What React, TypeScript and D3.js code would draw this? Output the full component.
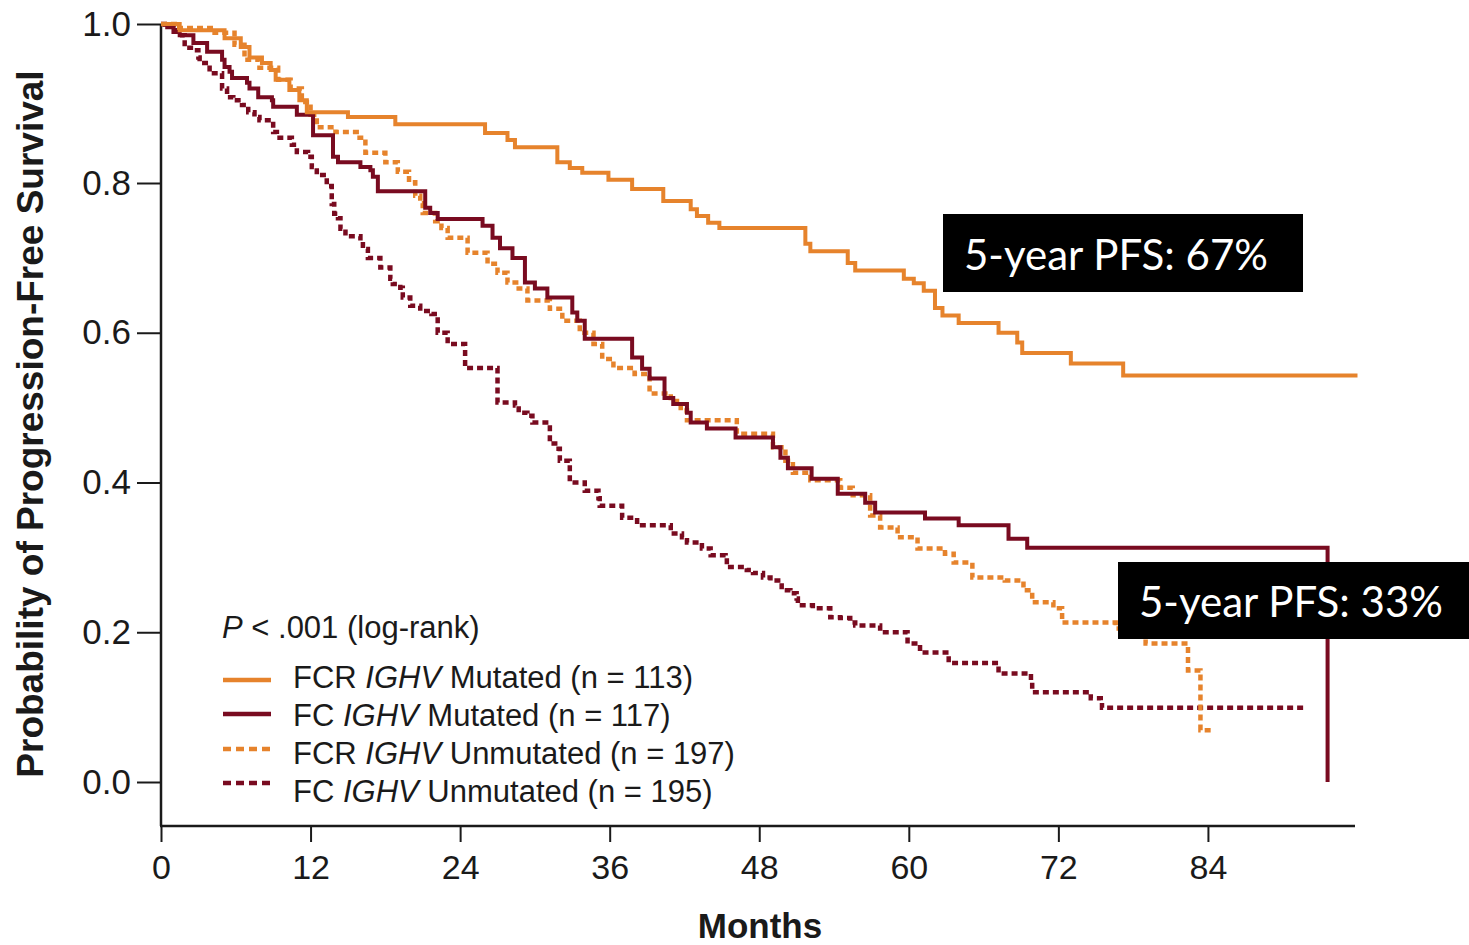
import React, { useEffect, useRef } from "react";
import * as d3 from "d3";

// axis ticks
const monthTicks = [0, 12, 24, 36, 48, 60, 72, 84];
const probTicks = [0, 0.2, 0.4, 0.6, 0.8, 1.0];

// Kaplan-Meier steps: [month, probability after the step]
const fcrMutated: [number, number][] = [
  [0, 1.0], [1.5, 0.992], [5.1, 0.982], [6.4, 0.971], [7.1, 0.958], [8.1, 0.951],
  [8.8, 0.942], [9.2, 0.93], [10.3, 0.917], [11.1, 0.904], [11.7, 0.889], [15.0, 0.883],
  [18.8, 0.874], [26.0, 0.863], [27.8, 0.854], [28.4, 0.845], [31.8, 0.826], [32.8, 0.819],
  [33.8, 0.813], [35.9, 0.804], [37.8, 0.792], [40.3, 0.776], [42.5, 0.765], [43.0, 0.756],
  [43.9, 0.747], [44.8, 0.74], [51.7, 0.719], [52.1, 0.709], [55.1, 0.693], [55.7, 0.683],
  [59.6, 0.672], [60.4, 0.666], [61.2, 0.656], [62.1, 0.633], [62.7, 0.623], [64.0, 0.613],
  [67.2, 0.6], [68.7, 0.587], [69.1, 0.573], [73.0, 0.559], [77.2, 0.543], [96.0, 0.543],
];

const fcMutated: [number, number][] = [
  [0, 1.0], [0.5, 0.996], [1.0, 0.99], [1.5, 0.986], [2.6, 0.976], [3.7, 0.965],
  [4.9, 0.955], [5.1, 0.946], [5.5, 0.94], [5.7, 0.932], [6.9, 0.926], [7.1, 0.919],
  [7.8, 0.908], [8.9, 0.904], [9.0, 0.896], [10.9, 0.886], [12.2, 0.86], [13.8, 0.833],
  [14.2, 0.826], [16.0, 0.82], [16.8, 0.816], [17.0, 0.808], [17.4, 0.789], [21.2, 0.767],
  [21.6, 0.76], [22.2, 0.752], [25.8, 0.743], [26.6, 0.727], [27.2, 0.713], [28.2, 0.7],
  [29.2, 0.667], [30.0, 0.659], [31.0, 0.647], [33.0, 0.627], [33.4, 0.616], [34.0, 0.592],
  [37.8, 0.567], [38.6, 0.552], [39.2, 0.539], [40.4, 0.513], [41.1, 0.505], [42.2, 0.493],
  [42.5, 0.48], [43.8, 0.472], [46.1, 0.46], [49.1, 0.447], [49.7, 0.433], [50.3, 0.419],
  [52.2, 0.405], [54.3, 0.385], [56.5, 0.373], [57.3, 0.36], [61.3, 0.352], [64.0, 0.343],
  [68.0, 0.325], [69.5, 0.313], [93.6, 0.0],
];

const fcrUnmutated: [number, number][] = [
  [0, 1.0], [1.1, 0.995], [4.3, 0.989], [5.9, 0.974], [6.7, 0.955], [7.9, 0.945],
  [9.4, 0.93], [10.4, 0.919], [11.3, 0.902], [12.0, 0.886], [12.5, 0.87], [14.0, 0.864],
  [15.7, 0.857], [16.4, 0.838], [18.0, 0.826], [19.0, 0.814], [19.9, 0.801], [20.4, 0.783],
  [20.8, 0.773], [21.0, 0.76], [22.0, 0.749], [22.5, 0.74], [23.0, 0.727], [24.6, 0.707],
  [26.2, 0.692], [27.0, 0.68], [27.8, 0.667], [28.7, 0.659], [29.4, 0.643], [31.2, 0.632],
  [32.2, 0.616], [33.6, 0.6], [34.7, 0.585], [35.4, 0.565], [36.3, 0.553], [38.0, 0.545],
  [39.2, 0.519], [40.9, 0.509], [41.4, 0.503], [41.7, 0.496], [42.2, 0.483], [46.2, 0.465],
  [49.1, 0.447], [50.1, 0.429], [50.7, 0.413], [52.1, 0.403], [54.5, 0.393], [55.5, 0.383],
  [56.9, 0.356], [57.7, 0.34], [59.1, 0.327], [60.7, 0.312], [62.9, 0.305], [63.6, 0.293],
  [65.1, 0.273], [67.7, 0.269], [69.2, 0.256], [69.9, 0.24], [71.6, 0.232], [72.3, 0.213],
  [76.6, 0.205], [79.0, 0.185], [82.4, 0.149], [83.4, 0.069], [84.4, 0.069],
];

const fcUnmutated: [number, number][] = [
  [0, 1.0], [0.3, 0.999], [1.0, 0.992], [1.5, 0.986], [1.9, 0.97], [2.6, 0.967],
  [3.0, 0.958], [3.1, 0.951], [3.9, 0.938], [4.9, 0.919], [5.3, 0.908], [5.8, 0.904],
  [6.5, 0.898], [7.0, 0.889], [7.5, 0.883], [7.9, 0.879], [9.0, 0.864], [9.3, 0.857],
  [10.5, 0.848], [10.9, 0.839], [11.8, 0.833], [12.1, 0.82], [12.5, 0.81], [13.3, 0.796],
  [13.7, 0.772], [13.9, 0.759], [14.2, 0.753], [14.4, 0.739], [14.8, 0.729], [16.0, 0.723],
  [16.2, 0.712], [16.6, 0.7], [17.6, 0.687], [18.4, 0.672], [18.6, 0.665], [19.2, 0.66],
  [19.4, 0.647], [20.0, 0.636], [20.8, 0.629], [21.7, 0.625], [22.2, 0.6], [23.0, 0.585],
  [24.4, 0.553], [27.0, 0.507], [28.4, 0.503], [28.7, 0.493], [29.4, 0.489], [29.8, 0.48],
  [31.2, 0.452], [31.9, 0.445], [32.0, 0.429], [32.8, 0.4], [34.0, 0.389], [35.1, 0.379],
  [35.2, 0.369], [37.0, 0.353], [38.2, 0.343], [40.9, 0.332], [41.8, 0.327], [42.2, 0.32],
  [43.4, 0.312], [44.1, 0.303], [45.3, 0.299], [45.4, 0.287], [47.0, 0.283], [47.5, 0.279],
  [48.3, 0.273], [48.9, 0.269], [49.8, 0.256], [50.5, 0.252], [51.0, 0.245], [51.1, 0.236],
  [52.3, 0.232], [53.7, 0.22], [54.5, 0.219], [55.3, 0.213], [55.7, 0.209], [57.7, 0.2],
  [59.9, 0.185], [60.9, 0.173], [63.2, 0.159], [67.2, 0.145], [69.8, 0.136], [69.9, 0.12],
  [74.6, 0.112], [75.4, 0.107], [75.5, 0.099], [91.8, 0.099],
];

const regimens = ["FCR", "FC", "FCR", "FC"];
const statuses = ["Mutated", "Mutated", "Unmutated", "Unmutated"];
const counts = [113, 117, 197, 195];
const pfsNotes = ["5-year PFS: 67%", "5-year PFS: 33%"];

const ORANGE = "#E6832C";
const MAROON = "#790B20";
const INK = "#1a1a1a";
const FONT = "'Liberation Sans', Arial, sans-serif";

export default function App() {
  const ref = useRef<SVGSVGElement>(null);

  useEffect(() => {
    document.body.style.margin = "0";
    const svg = d3.select(ref.current);
    svg.selectAll("*").remove();

    const x = d3.scaleLinear().domain([0, 95.8]).range([161, 1355]);
    // 1.0 sits a little higher than the even spacing in the original figure
    const y = d3.scaleLinear().domain([0, 0.8, 1]).range([782, 183, 24]);
    const axisY = 826;

    // x axis
    const gx = svg.append("g").attr("transform", `translate(0,${axisY})`)
      .call(d3.axisBottom(x).tickValues(monthTicks).tickSize(16).tickSizeOuter(0).tickPadding(13));
    gx.select(".domain").remove();
    gx.selectAll("line").attr("stroke", INK).attr("stroke-width", 2);
    gx.selectAll("text").attr("font-size", 34).attr("font-family", FONT).attr("fill", INK);

    // y axis
    const gy = svg.append("g").attr("transform", "translate(161,0)")
      .call(d3.axisLeft(y).tickValues(probTicks).tickFormat(d3.format(".1f")).tickSize(24).tickSizeOuter(0).tickPadding(6));
    gy.select(".domain").remove();
    gy.selectAll("line").attr("stroke", INK).attr("stroke-width", 2);
    gy.selectAll("text").attr("font-size", 35).attr("font-family", FONT).attr("fill", INK);

    svg.append("line").attr("x1", 161).attr("x2", 161).attr("y1", y(1)).attr("y2", axisY)
      .attr("stroke", INK).attr("stroke-width", 2.5);
    svg.append("line").attr("x1", 160).attr("x2", x(95.8)).attr("y1", axisY).attr("y2", axisY)
      .attr("stroke", INK).attr("stroke-width", 2.5);

    // axis titles
    svg.append("text").attr("x", 760).attr("y", 938).attr("text-anchor", "middle")
      .attr("font-family", FONT).attr("font-weight", "bold").attr("font-size", 35).attr("fill", INK)
      .text("Months");
    svg.append("text").attr("transform", "translate(43,424) rotate(-90)").attr("text-anchor", "middle")
      .attr("font-family", FONT).attr("font-weight", "bold").attr("font-size", 37).attr("fill", INK)
      .text("Probability of Progression-Free Survival");

    // curves
    const km = d3.line<[number, number]>().x(d => x(d[0])).y(d => y(d[1])).curve(d3.curveStepAfter);
    const curves = [
      { data: fcUnmutated, color: MAROON, dash: "6 4", width: 4.5 },
      { data: fcrUnmutated, color: ORANGE, dash: "6 4", width: 4.5 },
      { data: fcMutated, color: MAROON, dash: null, width: 4 },
      { data: fcrMutated, color: ORANGE, dash: null, width: 4 },
    ];
    curves.forEach(c => {
      svg.append("path").datum(c.data)
        .attr("fill", "none")
        .attr("stroke", c.color)
        .attr("stroke-width", c.width)
        .attr("stroke-dasharray", c.dash)
        .attr("d", km);
    });

    // legend
    svg.append("text").attr("x", 222).attr("y", 638)
      .attr("font-family", FONT).attr("font-size", 31).attr("fill", INK)
      .call(t => {
        t.append("tspan").attr("font-style", "italic").text("P");
        t.append("tspan").text(" < .001 (log-rank)");
      });
    const legendColors = [ORANGE, MAROON, ORANGE, MAROON];
    const legendDash = [null, null, "8 5", "8 5"];
    const sampleY = [680, 714, 749, 783];
    const textY = [688, 726, 764, 802];
    regimens.forEach((r, i) => {
      svg.append("line").attr("x1", 223).attr("x2", 271).attr("y1", sampleY[i]).attr("y2", sampleY[i])
        .attr("stroke", legendColors[i]).attr("stroke-width", 4.5).attr("stroke-dasharray", legendDash[i]);
      const t = svg.append("text").attr("x", 293).attr("y", textY[i])
        .attr("font-family", FONT).attr("font-size", 31).attr("fill", INK);
      t.append("tspan").text(r + " ");
      t.append("tspan").attr("font-style", "italic").text("IGHV");
      t.append("tspan").text(` ${statuses[i]} (n = ${counts[i]})`);
    });

    // 5-year PFS callouts
    const boxes = [
      { x: 943, y: 214, w: 360, h: 78, tx: 964, ty: 270 },
      { x: 1118, y: 562, w: 351, h: 77, tx: 1139, ty: 617 },
    ];
    boxes.forEach((b, i) => {
      svg.append("rect").attr("x", b.x).attr("y", b.y).attr("width", b.w).attr("height", b.h).attr("fill", "#000");
      svg.append("text").attr("x", b.tx).attr("y", b.ty)
        .attr("font-family", "Lato, 'Open Sans', sans-serif").attr("font-size", 42).attr("fill", "#fff")
        .text(pfsNotes[i]);
    });
  }, []);

  return <svg ref={ref} width={1469} height={945} style={{ display: "block", background: "#fff" }} />;
}
